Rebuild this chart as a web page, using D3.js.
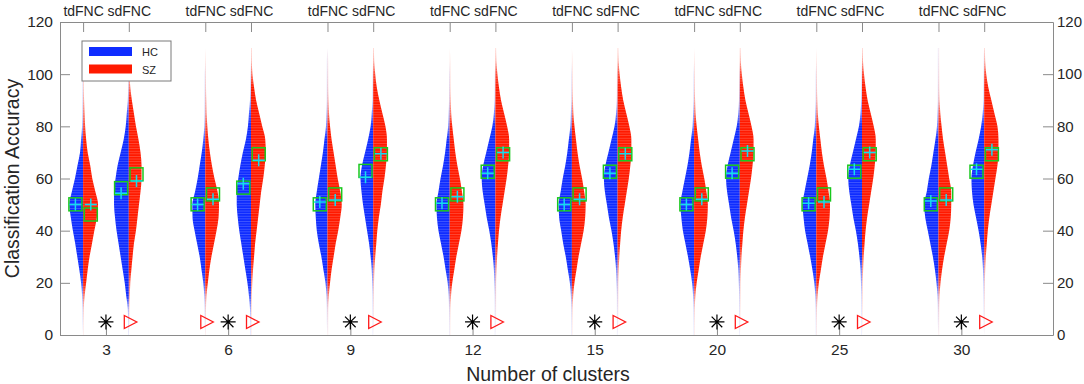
<!DOCTYPE html>
<html><head><meta charset="utf-8">
<script src="https://cdn.jsdelivr.net/npm/d3@7"></script>
<style>
body{margin:0;background:#fff}
svg{display:block}
text{font-family:"Liberation Sans",Arial,Helvetica,sans-serif;fill:#262626}
</style>
</head><body>
<svg id="chart" width="1084" height="384"></svg>
<script>
// ---------------- data ----------------
const categories = ["3","6","9","12","15","20","25","30"];
const methods = ["tdFNC","sdFNC"];
const classes = ["HC","SZ"];
const yTicks = [0,20,40,60,80,100,120];
const levels = [0,5,10,15,20,25,30,35,40,45,50,55,60,65,70,75,80,85,90,95,100,105,110];

// estimated densities (arbitrary units) at each level, one row per category
const densityTdHC = [
  [0,0.3,0.5,1,2,3.7,5.7,7.7,10,12,13.5,11,8,5.5,3,2,1,0.7,0.5,0.4,0.3,0,0],
  [0,0.3,0.5,1,2,3.7,5.5,8,10.5,12.5,12.7,10,7.5,5.5,3.5,2,1,0.7,0.5,0.4,0.3,0,0],
  [0,0.3,0.5,1,2,4,6,8.5,10.5,11.5,12,10.5,8.5,6.5,4.5,3,1.5,1,0.6,0.5,0.4,0.3,0],
  [0.2,0.3,0.5,1,2,4,6,8.5,11,12.5,13,11,9,6.5,4.5,3,1.5,1,0.5,0.4,0.3,0,0],
  [0.2,0.3,0.5,1,2,4,6,8.5,10.5,12.5,13,11,9,6.5,4.5,3,1.5,1,0.5,0.4,0.3,0,0],
  [0.2,0.3,0.5,1,2,3.8,6,8.5,11,12.5,13.5,11.5,9,6.5,4.5,3,1.5,1,0.5,0.4,0.3,0,0],
  [0.2,0.3,0.5,1,2,3.8,6,8.5,11,12.5,13.5,11.5,9,6.5,4.5,3,1.5,1,0.5,0.4,0.3,0,0],
  [0,0.3,0.5,1,2,3.5,5.5,8,10.5,13,14,11.5,9.5,7,5,3,1.5,1,0.5,0.4,0.3,0.3,0.2]
];
const densityTdSZ = [
  [0.2,0.3,0.7,1.5,3,4.5,6.3,8.7,11,13.5,14.7,12,9,7,4.5,3,2,1.5,1,0.7,0.5,0.3,0],
  [0.2,0.3,0.6,1.2,2.5,4,6,8.5,11,13,13.5,12,9,6.5,4.5,3,2,1.3,1,0.7,0.5,0.3,0],
  [0.2,0.3,0.6,1.3,2.5,4,6,8,10.5,12.5,14,12.5,10,8,6,4,2.5,1.5,1,0.7,0.5,0.3,0],
  [0.2,0.3,0.6,1.3,2.5,4.5,6.5,9,11.5,13,13.5,12,10,7.5,5.5,4,2.5,1.5,1,0.7,0.5,0.3,0],
  [0.2,0.3,0.6,1.3,2.5,4.5,6.5,9,11.5,13,13.5,12,10,7.5,5.5,4,2.5,1.5,1,0.7,0.5,0.3,0],
  [0.2,0.3,0.6,1.3,2.5,4.5,6.5,9,11.5,13,13.5,12,10,7.5,5.5,4,2.5,1.5,1,0.7,0.5,0.3,0],
  [0.2,0.3,0.6,1.3,2.5,4.5,6.5,9,11.5,13,13.5,12,10,7.5,5.5,4,2.5,1.5,1,0.7,0.5,0.3,0],
  [0.2,0.3,0.6,1,2,3.5,5.5,8,10.5,12,12.5,12.5,10.5,8.5,6.5,4.5,3,1.8,1,0.7,0.5,0.3,0.2]
];
const densitySdHC = [
  [0.3,0.5,1,2.5,4,6,8,10,12,13.5,14.5,14.5,13,11,8,5,3,2,1,0.6,0.3,0,0],
  [0.3,0.5,1,2,3.5,5.5,7.5,9.5,11.5,13,14,14,12.5,10.5,8,5,3,2,1,0.6,0.3,0,0],
  [0.2,0.3,0.4,0.6,1,1.5,2.5,4,6,8,10,11.5,12.5,11,8,5,2.5,1.5,0.7,0.5,0.3,0,0],
  [0.2,0.3,0.4,0.6,1,1.5,2.5,4,6,8.5,10.5,12.5,13.5,12,9,6,3,1.5,0.8,0.5,0.3,0,0],
  [0.2,0.3,0.4,0.6,1,1.5,2.5,4,6,8.5,10.5,12.5,13.5,12,9,6,3,1.5,0.8,0.5,0.3,0,0],
  [0.2,0.3,0.4,0.6,1,1.5,2.5,4,6,8.5,10.5,12.5,13.5,12,9,6,3,1.5,0.8,0.5,0.3,0,0],
  [0.2,0.3,0.4,0.6,1,1.5,2.5,4,6,8.5,10.5,12.5,13.5,12,9,6,3,1.5,0.8,0.5,0.3,0,0],
  [0,0.2,0.3,0.5,0.8,1.2,2,3.5,5.5,8,10.5,12,12.5,11,8.5,5.5,3,1.5,0.7,0.5,0.3,0.2,0]
];
const densitySdSZ = [
  [0,0.3,0.5,1,1.5,2.5,3.7,5,7,8.5,10,11.5,12.5,12.5,11.5,9.5,7,5,3,1.5,0.7,0.3,0],
  [0.2,0.3,0.5,0.8,1.3,2,3,4,5.5,7,8.5,10,12,13.5,14.5,14,11,8,5,3,1.5,0.8,0.5],
  [0,0.2,0.3,0.5,0.8,1.2,2,3,4,5.5,7.5,9,11,12.5,13.5,13.5,12,9,6,3.5,2,1,0.5],
  [0,0.2,0.3,0.5,0.7,1.1,1.7,2.5,3.5,5,7,9,11,12.5,13.5,13.5,11.5,8.5,5.5,3.5,2,1,0.5],
  [0,0.2,0.3,0.5,0.7,1.1,1.7,2.5,3.5,5,7,9,11,12.5,13.5,13.5,11.5,8.5,5.5,3.5,2,1,0.5],
  [0,0.2,0.3,0.5,0.7,1.1,1.7,2.5,3.5,5,7,9,11,12.5,13.5,13.5,11.5,8.5,5.5,3.5,2,1,0.5],
  [0,0.2,0.3,0.5,0.7,1.1,1.7,2.5,3.5,5,7,9,11,12.5,13.5,13.5,11.5,8.5,5.5,3.5,2,1,0.5],
  [0,0.2,0.3,0.4,0.6,1,1.6,2.5,3.5,5,7,9,11,13,14,14,13,10,7,4,2,1,0.5]
];

// means (squares) and medians (plus signs)
const meanTdHC   = [50.1,50.1,50.1,50.1,50.1,50.1,50.1,50.1];
const medianTdHC = [50.0,50.0,51.0,50.5,50.0,50.0,50.5,51.4];
const meanTdSZ   = [46.2,53.9,53.9,53.9,53.9,53.9,53.9,53.9];
const medianTdSZ = [50.0,52.0,51.8,53.0,52.0,52.0,51.0,51.8];
const meanSdHC   = [56.3,56.5,62.9,62.6,62.6,62.6,62.6,62.6];
const medianSdHC = [54.3,58.0,60.5,62.0,62.0,62.0,63.5,63.5];
const meanSdSZ   = [61.6,69.3,69.3,69.3,69.3,69.3,69.3,69.3];
const medianSdSZ = [59.0,67.0,69.5,70.0,69.5,70.5,70.0,71.0];

// significance markers (value at which they are drawn)
const starLevel = 5;
const starShown = [1,1,1,1,1,1,1,1];       // asterisk at category centre
const triTdShown = [0,1,0,0,0,0,0,0];      // triangle at tdFNC
const triSdShown = [1,1,1,1,1,1,1,1];      // triangle at sdFNC

// ---------------- layout ----------------
const plot = {left: 60, right: 1053, top: 22, bottom: 335};
const colors = {HC: "#0f2cff", SZ: "#ff1a00"};
const axisColor = "#8a8a8a";

const svg = d3.select("#chart");
const x = d3.scaleLinear().domain([0.624, 8.75]).range([plot.left, plot.right]);
const y = d3.scaleLinear().domain([0, 120]).range([plot.bottom, plot.top]);
const methodOffset = [-0.187, 0.187];
const halfOffset = 0.063;
const unit = x(2) - x(1);
const wScale = d3.scaleLinear().domain([0, 15]).range([0, 0.125 * unit]);

const defs = svg.append("defs");
// faint horizontal striping, as in the rendered histogram rows of the original
const pat = defs.append("pattern").attr("id", "stripes").attr("patternUnits", "userSpaceOnUse")
  .attr("width", 8).attr("height", 2.6);
pat.append("rect").attr("x", 0).attr("y", 0).attr("width", 8).attr("height", 0.8)
  .attr("fill", "#fff").attr("fill-opacity", 0.22);

const series = [
  {m: 0, c: "HC", dens: densityTdHC, mean: meanTdHC, med: medianTdHC},
  {m: 0, c: "SZ", dens: densityTdSZ, mean: meanTdSZ, med: medianTdSZ},
  {m: 1, c: "HC", dens: densitySdHC, mean: meanSdHC, med: medianSdHC},
  {m: 1, c: "SZ", dens: densitySdSZ, mean: meanSdSZ, med: medianSdSZ}
];

const gV = svg.append("g");
let gid = 0;
series.forEach(s => {
  const sign = s.c === "HC" ? -1 : 1;
  categories.forEach((cat, i) => {
    const cx = x(i + 1 + methodOffset[s.m]);
    const pts = levels.map((v, k) => ({v, d: s.dens[i][k]}));
    const id = "g" + (gid++);
    const grad = defs.append("linearGradient").attr("id", id)
      .attr("gradientUnits", "userSpaceOnUse")
      .attr("x1", 0).attr("x2", 0)
      .attr("y1", y(levels[0])).attr("y2", y(levels[levels.length - 1]));
    pts.forEach(p => {
      grad.append("stop")
        .attr("offset", (p.v - levels[0]) / (levels[levels.length - 1] - levels[0]))
        .attr("stop-color", colors[s.c])
        .attr("stop-opacity", Math.max(0.06, Math.min(1, p.d / 2.5)));
    });
    const area = d3.area()
      .curve(d3.curveMonotoneY)
      .y(p => y(p.v))
      .x0(cx)
      .x1(p => cx + sign * (p.d > 0 ? Math.max(0.7, wScale(p.d)) : 0));
    const dPath = area(pts);
    gV.append("path").attr("d", dPath).attr("fill", `url(#${id})`);
    gV.append("path").attr("d", dPath).attr("fill", "url(#stripes)");
  });
});

// ---------------- axes ----------------
const gA = svg.append("g");
function styleAxis(g) {
  g.selectAll("path.domain").attr("stroke", axisColor);
  g.selectAll(".tick line").attr("stroke", axisColor);
  g.selectAll(".tick text").attr("fill", "#262626");
}
const yLeft = d3.axisLeft(y).tickValues(yTicks).tickSizeInner(-10).tickSizeOuter(0).tickPadding(7);
gA.append("g").attr("transform", `translate(${plot.left},0)`).call(yLeft)
  .call(g => g.selectAll("text").style("font-size", "15.5px")).call(styleAxis);
const yRight = d3.axisRight(y).tickValues(yTicks).tickSizeInner(-10).tickSizeOuter(0).tickPadding(4);
gA.append("g").attr("transform", `translate(${plot.right},0)`).call(yRight)
  .call(g => g.selectAll("text").style("font-size", "15px")).call(styleAxis);
const xBottom = d3.axisBottom(x).tickValues(categories.map((c, i) => i + 1))
  .tickFormat((d, i) => categories[i]).tickSizeInner(-10).tickSizeOuter(0).tickPadding(9);
gA.append("g").attr("transform", `translate(0,${plot.bottom})`).call(xBottom)
  .call(g => g.selectAll("text").style("font-size", "15.5px")).call(styleAxis);
const topVals = [], topLabels = [];
categories.forEach((c, i) => methods.forEach((m, j) => { topVals.push(i + 1 + methodOffset[j]); topLabels.push(m); }));
const xTop = d3.axisTop(x).tickValues(topVals).tickFormat((d, i) => topLabels[i])
  .tickSizeInner(-10).tickSizeOuter(0).tickPadding(6);
gA.append("g").attr("transform", `translate(0,${plot.top})`).call(xTop)
  .call(g => g.selectAll("text").style("font-size", "14px")).call(styleAxis);

// axis titles
svg.append("text").attr("x", 548).attr("y", 381)
  .attr("text-anchor", "middle").style("font-size", "19.5px").text("Number of clusters");
svg.append("text").attr("transform", `translate(19,${y(60)}) rotate(-90)`)
  .attr("text-anchor", "middle").style("font-size", "19.5px").text("Classification Accuracy");

// ---------------- markers ----------------
const gM = svg.append("g");
series.forEach(s => {
  const sign = s.c === "HC" ? -1 : 1;
  categories.forEach((cat, i) => {
    const mx = x(i + 1 + methodOffset[s.m] + sign * halfOffset);
    gM.append("rect").attr("x", mx - 6.5).attr("y", y(s.mean[i]) - 6.5)
      .attr("width", 13).attr("height", 13)
      .attr("fill", "none").attr("stroke", "#19c81e").attr("stroke-width", 1.5);
    const my = y(s.med[i]);
    gM.append("path").attr("d", `M${mx - 6},${my}H${mx + 6}M${mx},${my - 6}V${my + 6}`)
      .attr("stroke", "#14dcf0").attr("stroke-width", 1.5).attr("fill", "none");
  });
});
const r = 7.5, rd = 5.3;
categories.forEach((cat, i) => {
  const sy = y(starLevel);
  if (starShown[i]) {
    const sx = x(i + 1);
    gM.append("path")
      .attr("d", `M${sx - r},${sy}H${sx + r}M${sx},${sy - r}V${sy + r}M${sx - rd},${sy - rd}L${sx + rd},${sy + rd}M${sx - rd},${sy + rd}L${sx + rd},${sy - rd}`)
      .attr("stroke", "#000").attr("stroke-width", 1.2).attr("fill", "none");
  }
  [triTdShown, triSdShown].forEach((arr, j) => {
    if (!arr[i]) return;
    const tx = x(i + 1 + methodOffset[j]) + 1.5;
    gM.append("path")
      .attr("d", `M${tx - 6},${sy - 6.5}L${tx - 6},${sy + 6.5}L${tx + 6.5},${sy}Z`)
      .attr("fill", "none").attr("stroke", "#ff1a1a").attr("stroke-width", 1.3);
  });
});

// ---------------- legend ----------------
const lg = svg.append("g");
lg.append("rect").attr("x", 82).attr("y", 41).attr("width", 89).attr("height", 40)
  .attr("fill", "#fff").attr("stroke", "#7a7a7a").attr("stroke-width", 1);
classes.forEach((c, k) => {
  lg.append("rect").attr("x", 89).attr("y", 47 + k * 17.5).attr("width", 43).attr("height", 9)
    .attr("fill", colors[c]);
  lg.append("text").attr("x", 142).attr("y", 56 + k * 17.5).style("font-size", "11px").text(c);
});
</script>
</body></html>
